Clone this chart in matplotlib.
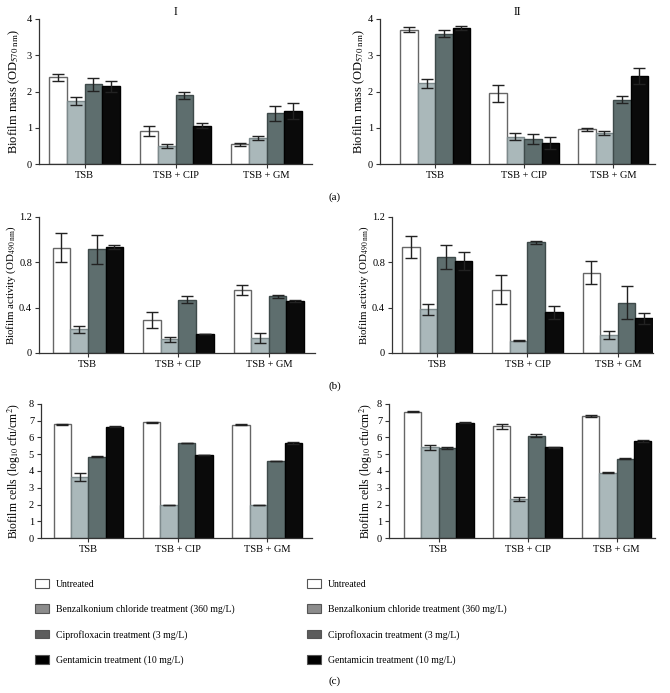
import numpy as np
import matplotlib.pyplot as plt
from matplotlib.patches import Patch

plt.rcParams['font.family'] = ['Liberation Serif', 'DejaVu Serif']
plt.rcParams['mathtext.fontset'] = 'stix'

# groups and treatments
groups = ["TSB", "TSB + CIP", "TSB + GM"]
treatments = ["Untreated",
              "Benzalkonium chloride treatment (360 mg/L)",
              "Ciprofloxacin treatment (3 mg/L)",
              "Gentamicin treatment (10 mg/L)"]

# (a) biofilm mass, rows = treatment, cols = group
mass_I = [[2.39, 0.90, 0.54], [1.73, 0.50, 0.72], [2.20, 1.90, 1.40], [2.15, 1.05, 1.45]]
mass_I_err = [[0.10, 0.14, 0.05], [0.11, 0.06, 0.05], [0.18, 0.10, 0.21], [0.15, 0.07, 0.22]]
mass_II = [[3.71, 1.95, 0.96], [2.23, 0.75, 0.85], [3.60, 0.69, 1.77], [3.76, 0.58, 2.43]]
mass_II_err = [[0.07, 0.23, 0.04], [0.12, 0.10, 0.06], [0.11, 0.14, 0.10], [0.06, 0.17, 0.22]]

# (b) biofilm activity
act_I = [[0.93, 0.29, 0.556], [0.21, 0.12, 0.135], [0.915, 0.47, 0.50], [0.935, 0.17, 0.46]]
act_I_err = [[0.125, 0.07, 0.045], [0.03, 0.02, 0.045], [0.13, 0.03, 0.015], [0.015, 0.0, 0.01]]
act_II = [[0.935, 0.56, 0.71], [0.385, 0.107, 0.16], [0.846, 0.976, 0.444], [0.81, 0.358, 0.305]]
act_II_err = [[0.095, 0.125, 0.105], [0.05, 0.005, 0.035], [0.105, 0.015, 0.145], [0.08, 0.06, 0.045]]

# (c) biofilm cells
cells_I = [[6.80, 6.90, 6.77], [3.64, 2.00, 2.00], [4.86, 5.67, 4.60], [6.65, 4.96, 5.67]]
cells_I_err = [[0.03, 0.05, 0.05], [0.25, 0.0, 0.0], [0.03, 0.02, 0.02], [0.04, 0.02, 0.04]]
cells_II = [[7.55, 6.67, 7.28], [5.41, 2.33, 3.90], [5.36, 6.11, 4.72], [6.89, 5.41, 5.79]]
cells_II_err = [[0.02, 0.15, 0.04], [0.15, 0.12, 0.04], [0.05, 0.10, 0.03], [0.02, 0.05, 0.07]]

colors = ["#ffffff", "#aab8ba", "#5e6e6e", "#0a0a0a"]
edges = ["#666666", "#7d8a8c", "#3e4a4a", "#000000"]
legend_colors = ["#ffffff", "#8c8c8c", "#5c5c5c", "#000000"]

W, H = 670, 693
fig = plt.figure(figsize=(W / 100, H / 100), dpi=100)


def rect(l, r, t, b):
    return [l / W, 1 - b / H, (r - l) / W, (b - t) / H]


def panel(box, xlim, vals, errs, ylim, yticks, ylabel, label_x, label_size, title=None):
    ax = fig.add_axes(rect(*box))
    x = np.arange(len(groups))
    w = 0.195
    for i in range(4):
        ax.bar(x + (i - 1.5) * w, vals[i], w, color=colors[i], edgecolor=edges[i],
               linewidth=1.0, yerr=errs[i], capsize=4,
               error_kw=dict(ecolor="#222222", elinewidth=1.0, capthick=1.0))
    ax.set_xlim(*xlim)
    ax.set_ylim(*ylim)
    ax.set_yticks(yticks)
    ax.set_yticklabels([("%g" % v) for v in yticks])
    ax.set_xticks(x)
    ax.set_xticklabels(groups)
    ax.set_ylabel(ylabel, fontsize=label_size, va="center")
    # label centre given in figure pixels
    ax.yaxis.set_label_coords((label_x - box[0]) / (box[1] - box[0]), 0.5)
    ax.tick_params(labelsize=7.5, length=3, width=0.8, color="#333333", pad=2)
    for s in ["top", "right"]:
        ax.spines[s].set_visible(False)
    for s in ["left", "bottom"]:
        ax.spines[s].set_color("#333333")
        ax.spines[s].set_linewidth(0.9)
    if title:
        ax.set_title(title, fontsize=8.5, pad=3)
    return ax


panel((39, 312, 19, 164), (-0.5, 2.5), mass_I, mass_I_err, (0, 4), [0, 1, 2, 3, 4],
      r"Biofilm mass (OD$_{570\ \mathrm{nm}}$)", 14, 9, "I")
panel((380, 655, 19, 164), (-0.62, 2.47), mass_II, mass_II_err, (0, 4), [0, 1, 2, 3, 4],
      r"Biofilm mass (OD$_{570\ \mathrm{nm}}$)", 359, 9, "II")
panel((39, 315, 217, 353), (-0.54, 2.51), act_I, act_I_err, (0, 1.2), [0, 0.4, 0.8, 1.2],
      r"Biofilm activity (OD$_{490\ \mathrm{nm}}$)", 11, 7.8)
panel((392, 653, 217, 353), (-0.5, 2.39), act_II, act_II_err, (0, 1.2), [0, 0.4, 0.8, 1.2],
      r"Biofilm activity (OD$_{490\ \mathrm{nm}}$)", 364, 7.8)
panel((41, 312, 404, 538), (-0.53, 2.5), cells_I, cells_I_err, (0, 8), list(range(9)),
      r"Biofilm cells (log$_{10}$ cfu/cm$^2$)", 14, 8.4)
panel((389, 655, 404, 538), (-0.56, 2.43), cells_II, cells_II_err, (0, 8), list(range(9)),
      r"Biofilm cells (log$_{10}$ cfu/cm$^2$)", 366, 8.4)

fig.text(335 / W, 1 - 197 / H, "(a)", ha="center", va="center", fontsize=8)
fig.text(335 / W, 1 - 386 / H, "(b)", ha="center", va="center", fontsize=8)
fig.text(335 / W, 1 - 681 / H, "(c)", ha="center", va="center", fontsize=8)

handles = [Patch(facecolor=legend_colors[i], edgecolor="#555555", linewidth=0.8) for i in range(4)]
for xl in [31, 303]:
    fig.legend(handles, treatments, loc="upper left", bbox_to_anchor=(xl / W, 1 - 575 / H),
               frameon=False, fontsize=7, handlelength=1.45, handleheight=1.0,
               labelspacing=1.6, handletextpad=0.7, borderaxespad=0)

fig.savefig("out.png", dpi=100)
